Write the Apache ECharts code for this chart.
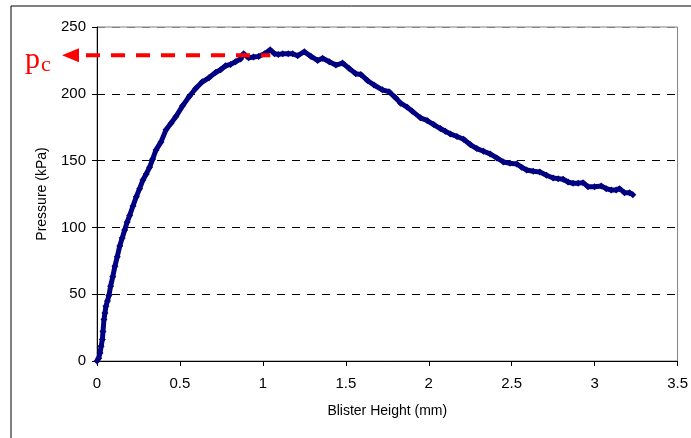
<!DOCTYPE html>
<html>
<head>
<meta charset="utf-8">
<script src="https://cdn.jsdelivr.net/npm/echarts@6/dist/echarts.min.js"></script>
<style>
html,body{margin:0;padding:0;background:#fff;}
#chart{width:691px;height:438px;}
</style>
</head>
<body>
<div id="chart"></div>
<script>
// Blister height (mm)
const heights = [0,0.01,0.018,0.025,0.032,0.036,0.042,0.048,0.054,0.063,0.072,0.082,0.095,0.108,0.122,0.137,0.152,0.167,0.182,0.197,0.217,0.237,0.257,0.277,0.297,0.317,0.335,0.356,0.386,0.416,0.446,0.476,0.516,0.556,0.595,0.635,0.675,0.715,0.745,0.775,0.805,0.835,0.865,0.884,0.914,0.944,0.974,1.01,1.044,1.07,1.093,1.12,1.153,1.18,1.21,1.25,1.29,1.33,1.36,1.40,1.44,1.48,1.52,1.56,1.59,1.63,1.67,1.72,1.76,1.80,1.83,1.87,1.90,1.95,1.99,2.03,2.07,2.10,2.13,2.17,2.21,2.25,2.29,2.33,2.37,2.41,2.45,2.49,2.53,2.56,2.59,2.63,2.67,2.71,2.75,2.78,2.81,2.84,2.87,2.90,2.93,2.96,3.00,3.04,3.07,3.10,3.13,3.15,3.18,3.21,3.23];
// Pressure (kPa)
const pressures = [0,2,6,11,16,22,31,36,41,45,49,56,63,71,78,86,92,98,104,109,116,123,129,135.5,140,145,151,158,164,173,178,183,191,198,204,209,212,216,218,221,222,224,226,230,227,227.5,228,230,233,230,229.5,230,230,230,228.5,231.5,228,225,226.6,224,221.5,223,219,215,214.5,210,206.6,203,201.6,197,193,190,187,182,180,177,174,172,170,168,166,162,159,157,155,152,149,148,147.5,145,143,142,141.5,139,137,136.5,136,134,133,133,133.5,130.5,130.5,131,129,128,128,129,126,126,124.5];
const xTicks = ['0','0.5','1','1.5','2','2.5','3','3.5'];
const yTicks = ['0','50','100','150','200','250'];
// critical pressure annotation
const pcValue = 228.8;
const pcHeight = 1.045;
const pcLabel = 'p';
const pcSub = 'c';

const chart = echarts.init(document.getElementById('chart'));
const data = heights.map((h, i) => [h, pressures[i]]);
const axisFont = {fontFamily: 'Liberation Sans, Arial, sans-serif', fontSize: 15, color: '#000'};

chart.setOption({
  animation: false,
  backgroundColor: '#fff',
  grid: {left: 97, top: 27, right: 8, bottom: 77, show: true, borderColor: '#808080', borderWidth: 1, backgroundColor: 'transparent'},
  xAxis: {
    type: 'value', min: 0, max: 3.5, interval: 0.5,
    name: 'Blister Height (mm)', nameLocation: 'middle', nameGap: 43,
    nameTextStyle: {fontFamily: 'Liberation Sans, Arial, sans-serif', fontSize: 14, color: '#000'},
    axisLine: {show: true, lineStyle: {color: '#000', width: 1}},
    axisTick: {show: true, inside: false, length: 5, lineStyle: {color: '#000'}},
    axisLabel: Object.assign({margin: 15, formatter: (v, i) => xTicks[i]}, axisFont),
    splitLine: {show: false}
  },
  yAxis: {
    type: 'value', min: 0, max: 250, interval: 50,
    name: 'Pressure (kPa)', nameLocation: 'middle', nameGap: 48, nameRotate: 90,
    nameTextStyle: {fontFamily: 'Liberation Sans, Arial, sans-serif', fontSize: 14, color: '#000'},
    axisLine: {show: true, lineStyle: {color: '#000', width: 1}},
    axisTick: {show: true, inside: false, length: 5, lineStyle: {color: '#000'}},
    axisLabel: Object.assign({margin: 11, formatter: (v, i) => yTicks[i]}, axisFont),
    splitLine: {show: true, lineStyle: {color: ['#000','#000','#000','#000','#000','#808080'], type: [8, 7], width: 1}}
  },
  series: [{
    type: 'line',
    data: data,
    symbol: 'diamond',
    symbolSize: 7,
    showAllSymbol: true,
    lineStyle: {color: '#000080', width: 5},
    itemStyle: {color: '#000080', borderWidth: 0},
    z: 3
  }]
});

function drawAnno() {
  const end = chart.convertToPixel({gridIndex: 0}, [pcHeight, pcValue]);
  const y = end[1];
  const tipX = 62;
  const serif = '"Liberation Serif", "Times New Roman", serif';
  chart.setOption({
    graphic: [
      {type: 'rect', shape: {x: 11, y: 6, width: 720, height: 480}, style: {fill: 'none', stroke: '#000', lineWidth: 1}, z: 0, silent: true},
      {type: 'line', shape: {x1: 86, y1: y, x2: end[0], y2: y}, style: {stroke: '#ff0000', lineWidth: 4, lineDash: [14, 11]}, z: 10},
      {type: 'polygon', shape: {points: [[tipX, y], [tipX + 17, y - 7], [tipX + 17, y + 7]]}, style: {fill: '#ff0000'}, z: 10},
      {type: 'text', x: 25, y: y + 20, style: {text: pcLabel, font: '30px ' + serif, fill: '#ff0000', verticalAlign: 'bottom', align: 'left'}, z: 10},
      {type: 'text', x: 41, y: y + 21, style: {text: pcSub, font: '22px ' + serif, fill: '#ff0000', verticalAlign: 'bottom', align: 'left'}, z: 10}
    ]
  });
}
drawAnno();
</script>
</body>
</html>
